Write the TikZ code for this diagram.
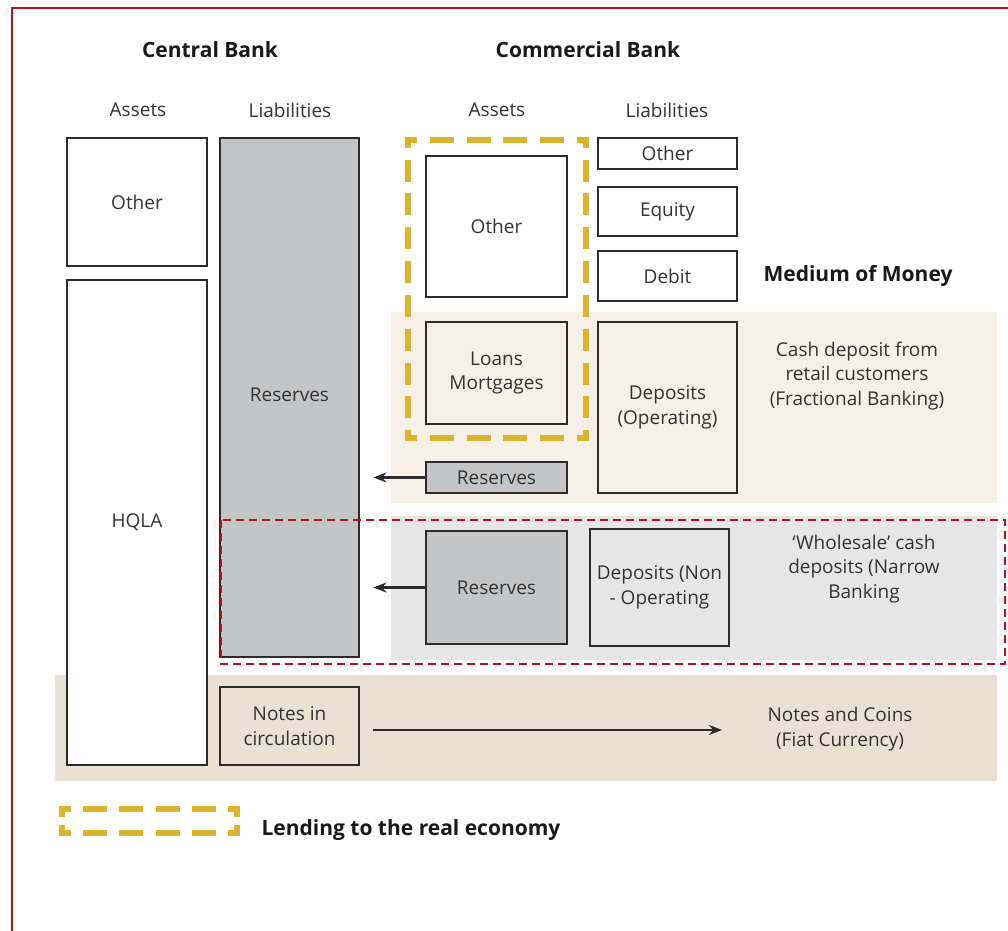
\documentclass[tikz,border=0pt]{standalone}
\usepackage{fontspec}
\setmainfont{Open Sans}
\usepackage{tikz}
\usetikzlibrary{positioning}
\usetikzlibrary{arrows.meta,calc}
\definecolor{boxline}{HTML}{2B2B2B}
\definecolor{txtgray}{HTML}{333333}
\definecolor{resgray}{HTML}{C4C5C7}
\definecolor{gold}{HTML}{DDB32E}
\definecolor{retailband}{HTML}{F6F0E6}
\definecolor{wholeband}{HTML}{E6E6E7}
\definecolor{fiatband}{HTML}{E9E1D4}
\definecolor{frame}{HTML}{B5121B}
\tikzstyle{acct}=[rectangle,draw=boxline,line width=2.9pt,inner sep=2pt,align=center,text=txtgray,font=\fontsize{19}{24.5}\selectfont]
\tikzstyle{reserve}=[acct,fill=resgray]
\tikzstyle{label}=[text=txtgray,align=center,font=\fontsize{19}{24.5}\selectfont]
\tikzstyle{heading}=[text=black!90,font=\fontsize{21}{26}\selectfont\bfseries]
\tikzstyle{flow}=[-{Stealth[length=13pt,width=10pt]},line width=2.5pt,draw=boxline]
\tikzstyle{lending}=[draw=gold,line width=6.5pt]

\begin{document}
\begin{tikzpicture}[x=1pt,y=-1pt]
  \useasboundingbox (0,0) rectangle (1008,930);
  \fill[white] (0,0) rectangle (1008,930);
  \draw[frame,line width=2pt] (12,8) rectangle (1030,960);

  % bands
  \fill[retailband] (391,312) rectangle (997,503);
  \fill[wholeband] (391,516) rectangle (997,660);
  \fill[fiatband] (55,675) rectangle (997,781);

  % headings
  \node[heading] (cbank) at (210,50) {Central Bank};
  \node[heading] (combank) at (588,50) {Commercial Bank};
  \foreach \pos/\name/\txt in {{(138,110)/cbA/Assets}, {(290,110)/cbL/Liabilities}, {(497,110)/cmA/Assets}, {(667,110)/cmL/Liabilities}}
    \node[label] (\name) at \pos {\txt};

  % central bank
  \node[acct,fill=white,minimum width=140pt,minimum height=128pt] (cbother) at (137,202) {Other};
  \node[acct,fill=white,minimum width=140pt,minimum height=485pt] (hqla) at (137,522.5) {HQLA};
  \node[reserve,minimum width=139pt,minimum height=519pt] (cbres) at (289.5,397.5) {\raisebox{5pt}{Reserves}};
  \node[acct,minimum width=139pt,minimum height=78pt] (notes) at (289.5,726) {Notes in\\circulation};

  % commercial bank assets (dashed gold outline, one side at a time)
  \foreach \ya/\yb/\xa/\xb/\on/\off in {140/140/404.75/589.25/24/12.9, 438/438/404.75/589.25/24/12.9, 136.75/441.25/408/408/22/11.83, 136.75/441.25/586/586/22/11.83}
    \draw[lending,dash pattern=on \on pt off \off pt,dash phase=0.5*\on pt] (\xa,\ya) -- (\xb,\yb);
  \node[acct,fill=white,minimum width=141pt,minimum height=141pt] (cmother) at (496.5,226.5) {Other};
  \node[acct,minimum width=141pt,minimum height=102pt] (loans) at (496.5,373) {Loans\\Mortgages};
  \node[reserve,minimum width=141pt,minimum height=31pt] (resA) at (496.5,477.5) {Reserves};
  \node[reserve,minimum width=141pt,minimum height=113pt] (resB) at (496.5,587.5) {Reserves};

  % commercial bank liabilities
  \foreach \pos/\name/\h/\txt in {{(667.5,153.5)/lother/31/Other}, {(667.5,211.5)/equity/49/Equity}, {(667.5,276)/debit/50/Debit}}
    \node[acct,fill=white,minimum width=139pt,minimum height=\h pt] (\name) at \pos {\txt};
  \node[acct,minimum width=139pt,minimum height=171pt] (depop) at (667.5,407.5) {Deposits\\(Operating)};
  \node[acct,minimum width=139pt,minimum height=117pt] (depnon) at (659.5,587.5) {Deposits (Non\\- Operating};

  \node[heading] (medium) at (858,276) {Medium of Money};
  \node[label] (retail) at (857,376) {Cash deposit from\\retail customers\\(Fractional Banking)};
  \node[label] (whole) at (864,569) {`Wholesale' cash\\deposits (Narrow\\Banking};
  \node[label] (fiat) at (840,729) {Notes and Coins\\(Fiat Currency)};

  % flows
  \coordinate (fiatin) at (722,730);
  \draw[flow,shorten >=13pt] (resA.west) -- (resA.west -| cbres.east);
  \draw[flow,shorten >=13pt] (resB.west) -- (resB.west -| cbres.east);
  \draw[flow,shorten <=13pt] (notes.east |- fiatin) -- (fiatin);

  % narrow banking
  \draw[frame,line width=1.4pt,dash pattern=on 8pt off 5pt] (221,520) rectangle (1005,664);

  % legend
  \foreach \ya/\yb/\xa/\xb/\on/\off in {809/809/58.75/240.25/24/12.3, 833/833/58.75/240.25/24/12.3, 805.75/836.25/62/62/22/8.5, 805.75/836.25/237/237/22/8.5}
    \draw[lending,dash pattern=on \on pt off \off pt,dash phase=0.5*\on pt] (\xa,\ya) -- (\xb,\yb);
  \node[heading,anchor=west] (lendtxt) at (258,830) {Lending to the real economy};
\end{tikzpicture}
\end{document}
